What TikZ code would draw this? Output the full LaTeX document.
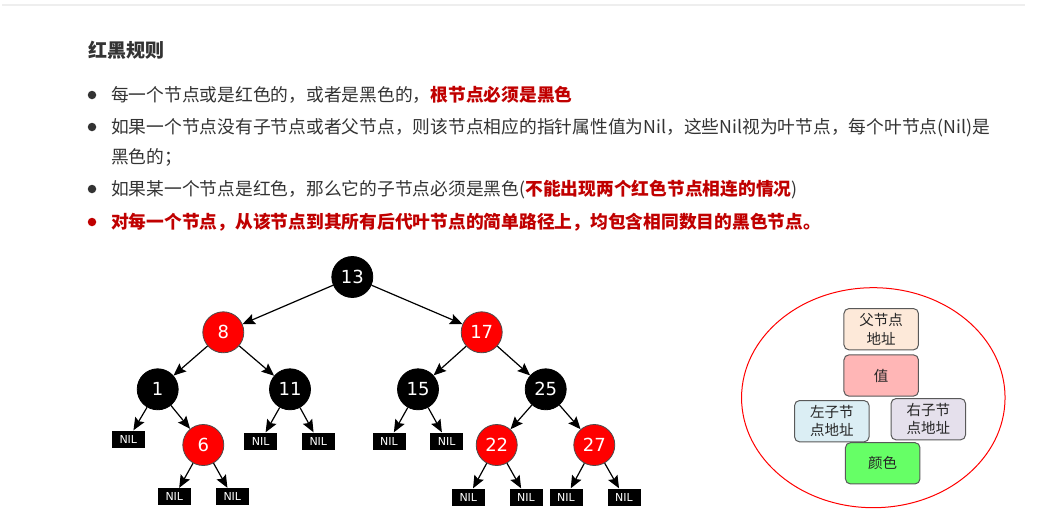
\documentclass[tikz,border=0pt]{standalone}
\usepackage{fontspec}
\newfontfamily\cjk{Noto Sans CJK SC}
\newfontfamily\dv{DejaVu Sans}
\usetikzlibrary{arrows.meta,shapes.geometric}
\definecolor{txt}{HTML}{333333}
\definecolor{rd}{RGB}{192,0,0}
\definecolor{rule}{HTML}{EEEEEE}
\definecolor{fparent}{HTML}{FDE9D9}
\definecolor{fval}{HTML}{FFB6B6}
\definecolor{fleft}{HTML}{DBEEF4}
\definecolor{fright}{HTML}{E5E0EC}
\definecolor{fcolor}{HTML}{66FF66}
\tikzset{
  line/.style={anchor=base west, inner sep=0pt, font=\cjk\fontsize{17.75}{21}\selectfont, text=txt},
  dot/.style={circle, inner sep=0pt, minimum size=8.5pt},
  rnode/.style={circle, minimum size=41pt, inner sep=0pt, fill=red, draw=black!70, line width=0.8pt,
                text=white, font=\dv\fontsize{18}{18}\selectfont},
  bnode/.style={rnode, fill=black, draw=black},
  nil/.style={rectangle, fill=black, minimum width=33pt, minimum height=17pt, inner sep=0pt,
              text=white, font=\dv\fontsize{11}{11}\selectfont},
  edge/.style={-{Stealth[length=12.5pt,width=10.5pt,inset=2pt]}, line width=1.2pt},
  field/.style={draw=black!65, rounded corners=5pt, line width=1pt, minimum width=74.5pt,
                minimum height=41.3pt, inner sep=1pt, align=center, text=black!85,
                font=\cjk\fontsize{14.5}{18.5}\selectfont}
}
\begin{document}
\begin{tikzpicture}[x=1pt, y=-1pt]
\useasboundingbox (0,0) rectangle (1048,527);
% top rule
\draw[rule, line width=1.5pt] (2,5) -- (1025,5);

% heading and rules list
\node[line, text=txt] (title) at (88,58) {\fontsize{19}{22}\selectfont\bfseries 红黑规则};

\node[dot, fill=txt] (d1) at (92,95) {};
\node[line] (l1) at (111,101.5) {每一个节点或是红色的，或者是黑色的，{\color{rd}\bfseries 根节点必须是黑色}};

\node[dot, fill=txt] (d2) at (92,127) {};
\node[line] (l2) at (111,133.5) {如果一个节点没有子节点或者父节点，则该节点相应的指针属性值为Nil，这些Nil视为叶节点，每个叶节点(Nil)是};
\node[line] (l2b) at (111,163) {黑色的；};

\node[dot, fill=txt] (d3) at (92,189) {};
\node[line] (l3) at (111,195.5) {如果某一个节点是红色，那么它的子节点必须是黑色({\color{rd}\bfseries 不能出现两个红色节点相连的情况})};

\node[dot, fill=rd] (d4) at (92,222) {};
\node[line, text=rd] (l4) at (111,228.5) {\bfseries 对每一个节点，从该节点到其所有后代叶节点的简单路径上，均包含相同数目的黑色节点。};

% red-black tree
\node[bnode] (n13) at (352.3,277) {13};
\node[rnode] (n8)  at (223.3,332.3) {8};
\node[rnode] (n17) at (481.7,332.3) {17};
\node[bnode] (n1)  at (157.7,389.3) {1};
\node[bnode] (n11) at (290,389.3) {11};
\node[bnode] (n15) at (418,389.3) {15};
\node[bnode] (n25) at (545.7,389.3) {25};
\node[rnode] (n6)  at (203.3,445) {6};
\node[rnode] (n22) at (496.7,445) {22};
\node[rnode] (n27) at (594.3,445) {27};

\node[nil] (z1)  at (128.3,439) {NIL};
\node[nil] (z2)  at (260.7,441) {NIL};
\node[nil] (z3)  at (318.3,441) {NIL};
\node[nil] (z4)  at (389,441) {NIL};
\node[nil] (z5)  at (446.7,441) {NIL};
\node[nil] (z6)  at (174.3,496.5) {NIL};
\node[nil] (z7)  at (232.3,496.5) {NIL};
\node[nil] (z8)  at (468.3,497) {NIL};
\node[nil] (z9)  at (526,497) {NIL};
\node[nil] (z10) at (566,497) {NIL};
\node[nil] (z11) at (624,497) {NIL};

\draw[edge] (n13) -- (n8);
\draw[edge] (n13) -- (n17);
\draw[edge] (n8) -- (n1);
\draw[edge] (n8) -- (n11);
\draw[edge] (n17) -- (n15);
\draw[edge] (n17) -- (n25);
\draw[edge] (n1) -- (z1);
\draw[edge] (n1) -- (n6);
\draw[edge] (n11) -- (z2);
\draw[edge] (n11) -- (z3);
\draw[edge] (n15) -- (z4);
\draw[edge] (n15) -- (z5);
\draw[edge] (n25) -- (n22);
\draw[edge] (n25) -- (n27);
\draw[edge] (n6) -- (z6);
\draw[edge] (n6) -- (z7);
\draw[edge] (n22) -- (z8);
\draw[edge] (n22) -- (z9);
\draw[edge] (n27) -- (z10);
\draw[edge] (n27) -- (z11);

% node record
\node[draw=red, line width=1pt, ellipse, minimum width=263.5pt, minimum height=220pt, inner sep=0pt] (rec) at (873.3,397.7) {};
\node[field, fill=fparent] (parent) at (881.2,329.2) {父节点\\地址};
\node[field, fill=fval]    (val)    at (881.2,375.5) {值};
\node[field, fill=fleft]   (left)   at (831.8,421.2) {左子节\\点地址};
\node[field, fill=fright]  (right)  at (928.3,419.2) {右子节\\点地址};
\node[field, fill=fcolor]  (col)    at (882.7,463.3) {颜色};
\end{tikzpicture}
\end{document}
